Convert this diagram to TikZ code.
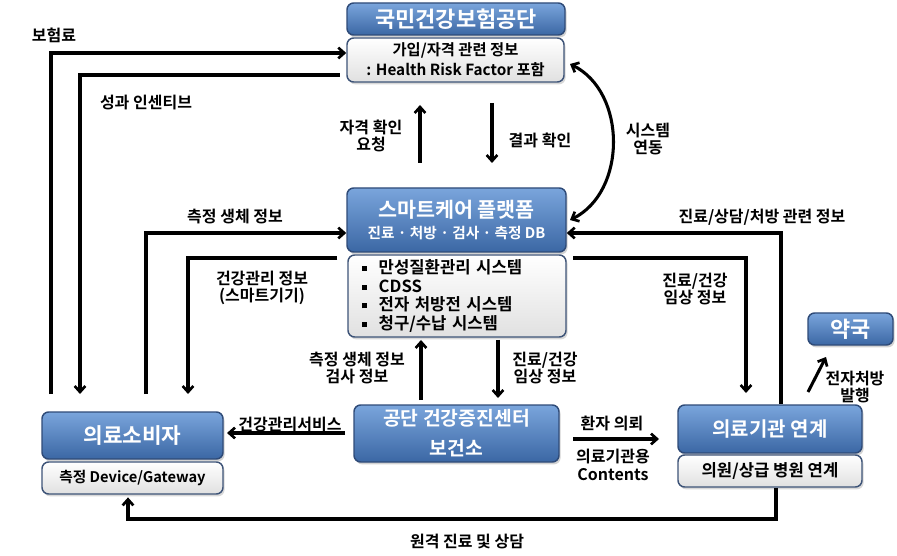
\documentclass[tikz,border=0pt]{standalone}
\usepackage{fontspec}
\setmainfont{Noto Sans CJK KR}[BoldFont={Noto Sans CJK KR Bold}]
\usetikzlibrary{arrows.meta,shadows}
\definecolor{blueTop}{HTML}{7AA5DC}
\definecolor{blueBot}{HTML}{3B67A4}
\definecolor{bordc}{HTML}{2F4B78}
\definecolor{wbord}{HTML}{3E5478}
\tikzset{
  bluebox/.style={rounded corners=5pt, draw=bordc, line width=1.1pt, top color=blueTop, bottom color=blueBot,
    text=white, font=\bfseries, inner sep=0pt, align=center,
    drop shadow={shadow xshift=1.2pt, shadow yshift=-1.8pt, opacity=0.35}},
  whitebox/.style={rounded corners=5pt, draw=wbord, line width=1.1pt, top color=white, bottom color=black!12,
    text=black, font=\bfseries, inner sep=0pt, align=center,
    drop shadow={shadow xshift=1.2pt, shadow yshift=-1.8pt, opacity=0.3}},
  conn/.style={line width=2.3pt, -{Straight Barb[length=4.5pt,width=8pt,line width=2pt]}},
  lbl/.style={font=\bfseries\fontsize{12}{13}\selectfont, align=center, inner sep=0pt},
}
\newcommand{\sqb}{\rule[0.28ex]{0.3em}{0.3em}\hspace{0.7em}}
\begin{document}
\begin{tikzpicture}[x=0.75pt,y=-0.75pt]
\useasboundingbox (0,0) rectangle (897,556);
\fill[white] (0,0) rectangle (897,556);

% ---- nodes ----
\node[bluebox, minimum width=163.5pt, minimum height=24pt, font=\bfseries\fontsize{16.5}{18}\selectfont] (nhis) at (456,19) {국민건강보험공단};
\node[whitebox, minimum width=162.75pt, minimum height=33pt, font=\bfseries\fontsize{11.5}{15}\selectfont] (nhisw) at (455.5,60) {가입/자격 관련 정보\\: Health Risk Factor 포함};

\node[bluebox, minimum width=164.25pt, minimum height=48pt] (sc) at (456.5,220)
  {{\fontsize{15.5}{17}\selectfont 스마트케어 플랫폼}\\[4pt]{\fontsize{11}{13}\selectfont 진료 · 처방 · 검사 · 측정 DB}};
\node[whitebox, minimum height=61.5pt, align=left, text width=142.5pt, inner xsep=10.5pt, font=\bfseries\fontsize{12.5}{14}\selectfont] (scw) at (457,296)
  {\sqb 만성질환관리 시스템\\ \sqb CDSS\\ \sqb 전자 처방전 시스템\\ \sqb 청구/수납 시스템};

\node[bluebox, minimum width=135.75pt, minimum height=35.25pt, font=\bfseries\fontsize{16}{18}\selectfont] (cons) at (132.5,435.5) {의료소비자};
\node[whitebox, minimum width=135.75pt, minimum height=24pt, font=\bfseries\fontsize{11}{13}\selectfont] (consw) at (132.5,478) {측정 Device/Gateway};

\node[bluebox, minimum width=153.75pt, minimum height=42.75pt, font=\bfseries\fontsize{14.5}{22.5}\selectfont] (ctr) at (456.5,433.5) {공단 건강증진센터\\보건소};

\node[bluebox, minimum width=138pt, minimum height=36pt, font=\bfseries\fontsize{15}{17}\selectfont] (hosp) at (770,429) {의료기관 연계};
\node[whitebox, minimum width=138pt, minimum height=24pt, font=\bfseries\fontsize{12.5}{14}\selectfont] (hospw) at (770,471) {의원/상급 병원 연계};

\node[bluebox, minimum width=63.75pt, minimum height=24pt, font=\bfseries\fontsize{16.5}{18}\selectfont] (pharm) at (850.5,329) {약국};

% ---- coordinates ----
\coordinate (a1) at (51,394);  \coordinate (a2) at (51,53);
\coordinate (b1) at (80,75);   \coordinate (b2) at (80,394);
\coordinate (c1) at (146,394); \coordinate (c2) at (146,233);
\coordinate (d1) at (188,258); \coordinate (d2) at (188,394);
\coordinate (e1) at (420,163); \coordinate (e2) at (420,105);
\coordinate (e3) at (492,103); \coordinate (e4) at (492,163);
\coordinate (f1) at (570,64);  \coordinate (f2) at (570,220);
\coordinate (f3) at (627,92);  \coordinate (f4) at (627,192);
\coordinate (g1) at (781,404); \coordinate (g2) at (781,233);
\coordinate (h1) at (746,258); \coordinate (h2) at (746,393);
\coordinate (i1) at (421,400); \coordinate (i2) at (421,340);
\coordinate (j1) at (498,340); \coordinate (j2) at (498,398);
\coordinate (k1) at (345,433); \coordinate (k2) at (227,433);
\coordinate (l1) at (573,439); \coordinate (l2) at (659,439);
\coordinate (m1) at (776,519); \coordinate (m2) at (128,519);
\coordinate (n1) at (808,392); \coordinate (n2) at (826,357);

% ---- connectors ----
\draw[conn] (a1) -- (a2) -- (nhisw.west |- a2);
\draw[conn] ([xshift=-5pt]nhisw.west |- b1) -- (b1) -- (b2);
\draw[conn] (c1) -- (c2) -- (sc.west |- c2);
\draw[conn] ([xshift=-7.5pt]scw.west |- d1) -- (d1) -- (d2);
\draw[conn] (e1) -- (e2);
\draw[conn] (e3) -- (e4);
\draw[conn, {Straight Barb[length=4.5pt,width=8pt,line width=2pt]}-{Straight Barb[length=4.5pt,width=8pt,line width=2pt]}] (f1) .. controls (f3) and (f4) .. (f2);
\draw[conn] (g1) -- (g2) -- (sc.east |- g2);
\draw[conn] ([xshift=5pt]scw.east |- h1) -- (h1) -- (h2);
\draw[conn] (i1) -- (i2);
\draw[conn] (j1) -- (j2);
\draw[conn] (k1) -- (k2);
\draw[conn] (l1) -- (l2);
\draw[conn] (hospw.south -| m1) -- (m1) -- (m2) -- ([yshift=-2pt]consw.south -| m2);
\draw[conn] (n1) -- (n2);

% ---- labels ----
\node[lbl] (t1) at (54,35) {보험료};
\node[lbl] (t2) at (146,103) {성과 인센티브};
\node[lbl] (t3) at (371,136) {자격 확인\\요청};
\node[lbl] (t4) at (540,140) {결과 확인};
\node[lbl] (t5) at (648,139) {시스템\\연동};
\node[lbl] (t6) at (235,217) {측정 생체 정보};
\node[lbl] (t7) at (762,217) {진료/상담/처방 관련 정보};
\node[lbl] (t8) at (262,288) {건강관리 정보\\(스마트기기)};
\node[lbl] (t9) at (695,289) {진료/건강\\임상 정보};
\node[lbl] (t10) at (357,368) {측정 생체 정보\\검사 정보};
\node[lbl] (t11) at (545,368) {진료/건강\\임상 정보};
\node[lbl] (t12) at (290,425) {건강관리서비스};
\node[lbl] (t13) at (612,423) {환자 의뢰};
\node[lbl] (t14) at (613,465) {의료기관용\\Contents};
\node[lbl] (t15) at (467,542) {원격 진료 및 상담};
\node[lbl] (t16) at (855,387) {전자처방\\발행};
\end{tikzpicture}
\end{document}
